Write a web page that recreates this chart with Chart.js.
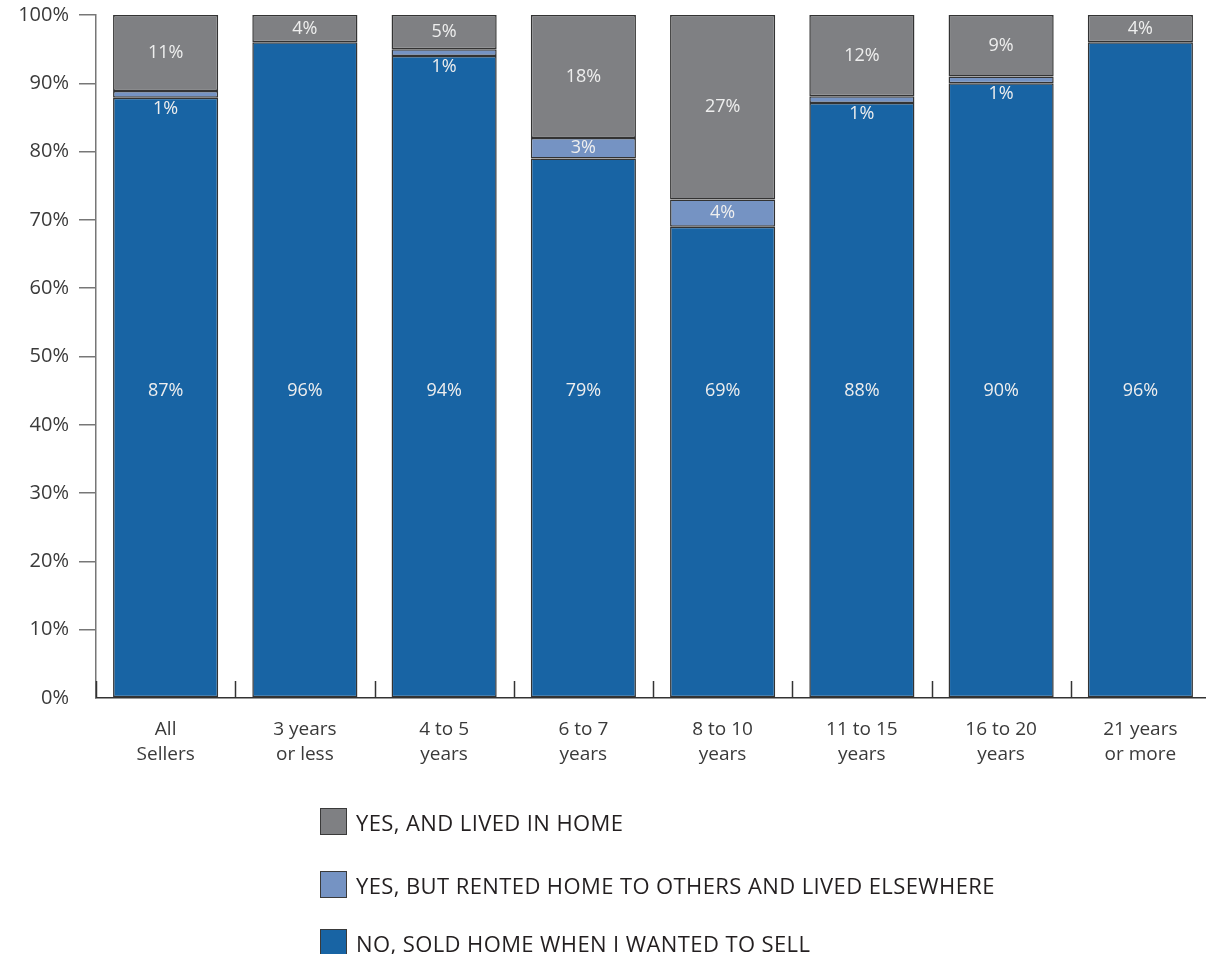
<!DOCTYPE html>
<html><head><meta charset="utf-8">
<script src="https://cdn.jsdelivr.net/npm/chart.js@4.4.1/dist/chart.umd.min.js"></script>
<style>
html,body{margin:0;padding:0;background:#fff;overflow:hidden;width:1206px;height:954px;}
#wrap{position:relative;width:1220px;height:954px;}
canvas{position:absolute;left:0;top:0;}
.leg{position:absolute;left:320px;font-family:"Open Sans",sans-serif;font-weight:400;font-size:22px;letter-spacing:0.4px;color:#231f20;display:flex;align-items:center;white-space:nowrap;height:27px;}
.box{width:27px;height:27px;border:1.5px solid #3a3a3a;margin-right:9px;box-sizing:border-box;}
</style></head>
<body><div id="wrap"><canvas id="c" width="1220" height="954"></canvas><div id="legend"></div></div>
<script>
const categories = [["All","Sellers"],["3 years","or less"],["4 to 5","years"],["6 to 7","years"],["8 to 10","years"],["11 to 15","years"],["16 to 20","years"],["21 years","or more"]];
const seriesNames = ["NO, SOLD HOME WHEN I WANTED TO SELL","YES, BUT RENTED HOME TO OTHERS AND LIVED ELSEWHERE","YES, AND LIVED IN HOME"];
const soldWhenWanted = [87,96,94,79,69,88,90,96];
const rentedToOthers = [1,0,1,3,4,1,1,0];
const livedInHome = [11,4,5,18,27,12,9,4];
const seriesColors = ["#1864a4","#7593c3","#7f8083"];
const yTickValues = [0,10,20,30,40,50,60,70,80,90,100];

const rawSeries = [soldWhenWanted, rentedToOthers, livedInHome];
const totals = categories.map((_, i) => rawSeries.reduce((s, a) => s + a[i], 0));
const shares = rawSeries.map(a => a.map((v, i) => v / totals[i] * 100));

const FONT = '"Open Sans", sans-serif';

const labelPlugin = {
  id: 'segLabels',
  afterDatasetsDraw(chart) {
    const ctx = chart.ctx;
    const y = chart.scales.y;
    ctx.save();
    ctx.font = '400 18px ' + FONT;
    ctx.fillStyle = '#eeeeee';
    ctx.textAlign = 'center';
    ctx.textBaseline = 'middle';
    chart.data.datasets.forEach((ds, di) => {
      const meta = chart.getDatasetMeta(di);
      meta.data.forEach((bar, i) => {
        const raw = rawSeries[di][i];
        if (!raw) return;
        let py;
        if (di === 0) {
          py = y.getPixelForValue(45);
        } else if (ds.data[i] < 2) {
          py = bar.base + 11;
        } else {
          py = (bar.y + bar.base) / 2;
        }
        ctx.fillText(raw + '%', bar.x, py);
      });
    });
    ctx.restore();
  },
  afterDraw(chart) {
    const ctx = chart.ctx;
    const x = chart.scales.x;
    const n = categories.length;
    const step = (x.right - x.left) / n;
    ctx.save();
    ctx.strokeStyle = '#333';
    ctx.lineWidth = 1.5;
    for (let i = 0; i <= n; i++) {
      const px = Math.round(x.left + i * step) + 0.5;
      ctx.beginPath();
      ctx.moveTo(px, x.top);
      ctx.lineTo(px, x.top - 17);
      ctx.stroke();
    }
    ctx.restore();
  }
};

new Chart(document.getElementById('c'), {
  type: 'bar',
  data: {
    labels: categories,
    datasets: shares.map((d, k) => ({
      label: seriesNames[k],
      data: d,
      backgroundColor: seriesColors[k],
      borderColor: '#333',
      borderWidth: 1.5,
      borderSkipped: false,
      categoryPercentage: 1,
      barPercentage: 0.755
    }))
  },
  options: {
    responsive: false,
    animation: false,
    devicePixelRatio: 1,
    layout: { padding: { top: 15, right: 10, left: 0, bottom: 0 } },
    plugins: { legend: { display: false }, tooltip: { enabled: false } },
    scales: {
      x: {
        stacked: true,
        grid: { display: false, drawTicks: false },
        border: { display: true, color: '#333', width: 1.5 },
        ticks: { color: '#3a3a3a', font: { family: FONT, size: 19, weight: 400, lineHeight: 1.32 }, padding: 19 },
        afterFit(s) { s.height = 954 - 698; s.paddingLeft = 0; s.paddingRight = 0; }
      },
      y: {
        stacked: true,
        min: 0, max: 100,
        afterBuildTicks(s) { s.ticks = yTickValues.map(v => ({ value: v })); },
        grid: {
          drawOnChartArea: false, drawTicks: true, tickLength: 17,
          color: c => (c.tick && c.tick.value === 0) ? 'rgba(0,0,0,0)' : '#777',
          lineWidth: 1.5
        },
        border: { display: true, color: '#777', width: 1.5 },
        ticks: { color: '#3a3a3a', font: { family: FONT, size: 20, weight: 400 }, padding: 10, callback: v => v + '%' },
        afterFit(s) { s.width = 96; s.paddingTop = 0; s.paddingBottom = 0; }
      }
    }
  },
  plugins: [labelPlugin]
});

const legendTops = [808, 871, 929];
const legendOrder = [2, 1, 0];
const lg = document.getElementById('legend');
legendOrder.forEach((k, j) => {
  const d = document.createElement('div');
  d.className = 'leg';
  d.style.top = legendTops[j] + 'px';
  d.innerHTML = '<span class="box" style="background:' + seriesColors[k] + '"></span><span>' + seriesNames[k] + '</span>';
  lg.appendChild(d);
});
</script>
</body></html>
